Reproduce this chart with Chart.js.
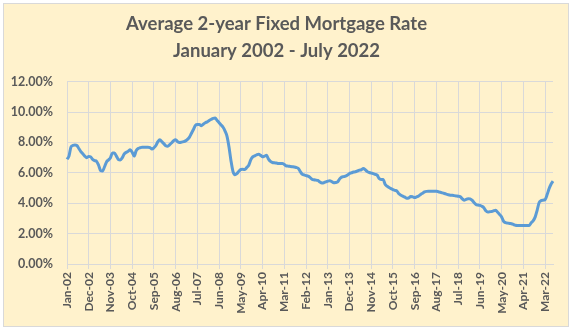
<!DOCTYPE html>
<html>
<head>
<meta charset="utf-8">
<script src="https://cdn.jsdelivr.net/npm/chart.js@4.4.1/dist/chart.umd.min.js"></script>
<style>
  html, body { margin: 0; padding: 0; background: #ffffff; }
  #frame {
    position: absolute; left: 3px; top: 3px; width: 564px; height: 322px;
    border: 1px solid #D9D9D9; background: #FFF2CC;
  }
  #holder { position: absolute; left: 0; top: 0; width: 573px; height: 331px; }
</style>
</head>
<body>
<div id="frame"></div>
<div id="holder"><canvas id="chart"></canvas></div>
<script>
// month names used for the category labels (Jan-02 ... Jul-22)
const monthNames = ["Jan", "Feb", "Mar", "Apr", "May", "Jun", "Jul", "Aug", "Sep", "Oct", "Nov", "Dec"];
const firstYear = 2002;
const lastYear = 2022;
const lastMonth = 7; // July
const labelEvery = 11;

// average 2-year fixed rate, %, one array per year
const rate2002 = [6.89, 7.1, 7.7, 7.8, 7.83, 7.8, 7.6, 7.4, 7.25, 7.1, 7.0, 7.08];
const rate2003 = [7.05, 6.88, 6.8, 6.75, 6.5, 6.15, 6.12, 6.4, 6.72, 6.85, 7.0, 7.3];
const rate2004 = [7.3, 7.1, 6.88, 6.85, 7.0, 7.25, 7.35, 7.42, 7.52, 7.35, 7.1, 7.45];
const rate2005 = [7.6, 7.65, 7.68, 7.68, 7.68, 7.68, 7.66, 7.56, 7.65, 7.8, 8.05, 8.18];
const rate2006 = [8.05, 7.92, 7.78, 7.75, 7.85, 7.98, 8.12, 8.18, 8.05, 8.0, 8.02, 8.05];
const rate2007 = [8.1, 8.2, 8.35, 8.6, 8.85, 9.12, 9.18, 9.18, 9.1, 9.2, 9.3, 9.35];
const rate2008 = [9.45, 9.52, 9.58, 9.6, 9.45, 9.3, 9.15, 9.0, 8.75, 8.4, 7.7, 6.8];
const rate2009 = [6.1, 5.88, 5.95, 6.1, 6.22, 6.23, 6.22, 6.35, 6.5, 6.85, 7.05, 7.12];
const rate2010 = [7.18, 7.22, 7.15, 7.06, 7.1, 7.15, 6.9, 6.75, 6.68, 6.66, 6.64, 6.62];
const rate2011 = [6.62, 6.62, 6.55, 6.45, 6.44, 6.42, 6.4, 6.38, 6.35, 6.3, 6.1, 5.92];
const rate2012 = [5.86, 5.82, 5.78, 5.7, 5.58, 5.54, 5.52, 5.5, 5.4, 5.33, 5.35, 5.4];
const rate2013 = [5.45, 5.48, 5.42, 5.35, 5.36, 5.4, 5.6, 5.72, 5.75, 5.78, 5.85, 5.96];
const rate2014 = [6.0, 6.05, 6.07, 6.12, 6.18, 6.2, 6.28, 6.2, 6.08, 6.02, 5.98, 5.95];
const rate2015 = [5.9, 5.85, 5.62, 5.56, 5.56, 5.25, 5.12, 5.03, 4.96, 4.9, 4.85, 4.8];
const rate2016 = [4.62, 4.52, 4.46, 4.4, 4.32, 4.35, 4.45, 4.42, 4.37, 4.42, 4.48, 4.58];
const rate2017 = [4.66, 4.74, 4.78, 4.79, 4.79, 4.79, 4.79, 4.78, 4.76, 4.72, 4.68, 4.64];
const rate2018 = [4.6, 4.56, 4.53, 4.52, 4.5, 4.48, 4.46, 4.44, 4.3, 4.2, 4.25, 4.3];
const rate2019 = [4.28, 4.2, 4.05, 3.92, 3.88, 3.86, 3.8, 3.7, 3.5, 3.42, 3.44, 3.46];
const rate2020 = [3.5, 3.53, 3.4, 3.25, 3.1, 2.8, 2.72, 2.69, 2.67, 2.65, 2.6, 2.55];
const rate2021 = [2.54, 2.54, 2.54, 2.54, 2.54, 2.54, 2.54, 2.72, 2.85, 3.1, 3.55, 4.05];
const rate2022 = [4.17, 4.2, 4.24, 4.55, 4.95, 5.25, 5.45];

const rates = [].concat(rate2002, rate2003, rate2004, rate2005, rate2006, rate2007,
  rate2008, rate2009, rate2010, rate2011, rate2012, rate2013, rate2014, rate2015,
  rate2016, rate2017, rate2018, rate2019, rate2020, rate2021, rate2022);

const months = [];
for (let y = firstYear; y <= lastYear; y++) {
  for (let m = 0; m < 12; m++) {
    if (y === lastYear && m >= lastMonth) break;
    months.push(monthNames[m] + "-" + String(y).slice(2));
  }
}

const textColor = "#595959";
const gridColor = "#D9D9D9";

new Chart(document.getElementById("chart"), {
  type: "line",
  data: {
    labels: months,
    datasets: [{
      label: "Average 2-year fixed rate",
      data: rates,
      borderColor: "#5B9BD5",
      borderWidth: 3,
      pointRadius: 0,
      cubicInterpolationMode: "monotone",
      fill: false
    }]
  },
  options: {
    responsive: true,
    maintainAspectRatio: false,
    animation: false,
    layout: { padding: { left: 0, right: 20, top: 0, bottom: 0 } },
    plugins: {
      legend: { display: false },
      tooltip: { enabled: false },
      title: {
        display: true,
        text: ["Average 2-year Fixed Mortgage Rate", "January 2002 - July 2022"],
        color: textColor,
        font: { family: "Lato", size: 18.5, weight: "bold", lineHeight: 1.45 },
        padding: { top: 11, bottom: 17 }
      }
    },
    scales: {
      x: {
        offset: false,
        // ticks whose label is null are dropped, so every remaining tick gets a grid line
        grid: { color: gridColor, tickLength: 5, drawTicks: true },
        border: { color: gridColor },
        ticks: {
          autoSkip: false,
          maxRotation: 90,
          minRotation: 90,
          padding: 3,
          color: textColor,
          font: { family: "Lato", size: 12, weight: "bold" },
          callback: function (value, index) {
            return index % labelEvery === 0 ? this.getLabelForValue(value) : null;
          }
        },
        afterFit: (scale) => { scale.height = 67; }
      },
      y: {
        min: 0,
        max: 12,
        grid: { color: gridColor, drawTicks: false },
        border: { display: false },
        ticks: {
          stepSize: 2,
          padding: 14,
          color: textColor,
          font: { family: "Lato", size: 12.5, weight: "bold" },
          callback: (v) => v.toFixed(2) + "%"
        },
        afterFit: (scale) => { scale.width = 67; }
      }
    }
  }
});
</script>
</body>
</html>
